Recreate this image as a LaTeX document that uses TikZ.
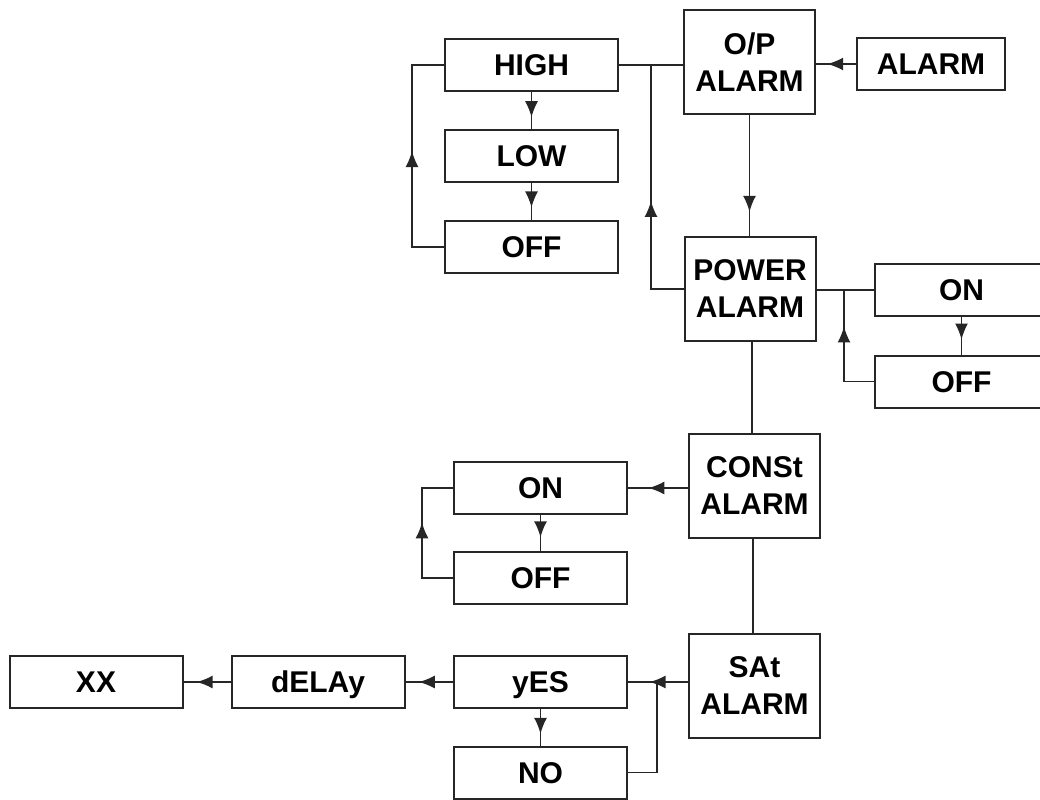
\documentclass[tikz,border=0pt]{standalone}
\usepackage{fontspec}
\setmainfont{Liberation Sans}
\usetikzlibrary{arrows.meta,decorations.markings}
\tikzset{
  boxbase/.style={draw=black!85, line width=1pt, inner sep=0pt, align=center,
    font=\fontsize{15pt}{18.5pt}\selectfont\bfseries},
  box/.style={boxbase, minimum width=86.5pt, minimum height=26pt,
    text height=10.7pt, text depth=0pt},
  tallbox/.style={boxbase, minimum width=65.5pt, minimum height=52pt},
  link/.style={draw=black!85, line width=0.75pt},
  tipat/.style={postaction={decorate}, decoration={markings,
    mark=at position #1 with {\arrow{Latex[length=8pt,width=6.5pt]}}}}
}
\begin{document}
\begin{tikzpicture}[x=0.5pt,y=-0.5pt]
  \useasboundingbox (0,0) rectangle (1040,799);
  \node[tallbox] (op) at (749.5,62) {O/P\\ALARM};
  \node[box, minimum width=74pt] (alarm) at (931,64) {ALARM};
  \node[box] (high) at (531.5,65) {HIGH};
  \node[box] (low) at (531.5,156) {LOW};
  \node[box] (offA) at (531.5,247) {OFF};
  \node[tallbox] (power) at (750,289) {POWER\\ALARM};
  \node[box] (onB) at (961.5,290) {ON};
  \node[box] (offB) at (961.5,381.5) {OFF};
  \node[tallbox] (const) at (754.5,486) {CONSt\\ALARM};
  \node[box] (onC) at (540.5,488) {ON};
  \node[box] (offC) at (540.5,578) {OFF};
  \node[tallbox] (sat) at (754.5,686) {SAt\\ALARM};
  \node[box] (yes) at (540.5,682) {yES};
  \node[box] (no) at (540.5,772.5) {NO};
  \node[box] (delay) at (318,682) {dELAy};
  \node[box] (xx) at (96,682) {XX};
  \coordinate (jA) at (651,65);
  \coordinate (jB) at (844,290);
  \coordinate (jC) at (657,682);

  \draw[link, tipat=0.72] (alarm.west) -- (alarm.west -| op.east);
  \draw[link] (high.east) -- (high.east -| op.west);
  \draw[link, tipat=0.47] (power.west) -| (jA);
  \draw[link, tipat=0.8] (op.south) -- (op.south |- power.north);
  \draw[link, tipat=0.52] (offA.west) -- ++(-32,0) |- (high.west);
  \draw[link, tipat=0.68] (high) -- (low);
  \draw[link, tipat=0.66] (low) -- (offA);
  \draw[link] (power.east |- onB.west) -- (onB.west);
  \draw[link, tipat=0.7] (offB.west) -| (jB);
  \draw[link, tipat=0.6] (onB) -- (offB);
  \draw[link] (const.north -| 752,0) -- (power.south -| 752,0);
  \draw[link, tipat=0.66] (const.west |- onC.east) -- (onC.east);
  \draw[link, tipat=0.62] (onC) -- (offC);
  \draw[link, tipat=0.57] (offC.west) -- ++(-31,0) |- (onC.west);
  \draw[link] (const.south -| 753,0) -- (sat.north -| 753,0);
  \draw[link, tipat=0.64] (sat.west |- yes.east) -- (yes.east);
  \draw[link] (no.east) -| (jC);
  \draw[link, tipat=0.68] (yes) -- (no);
  \draw[link, tipat=0.72] (yes) -- (delay);
  \draw[link, tipat=0.72] (delay) -- (xx);
\end{tikzpicture}
\end{document}
